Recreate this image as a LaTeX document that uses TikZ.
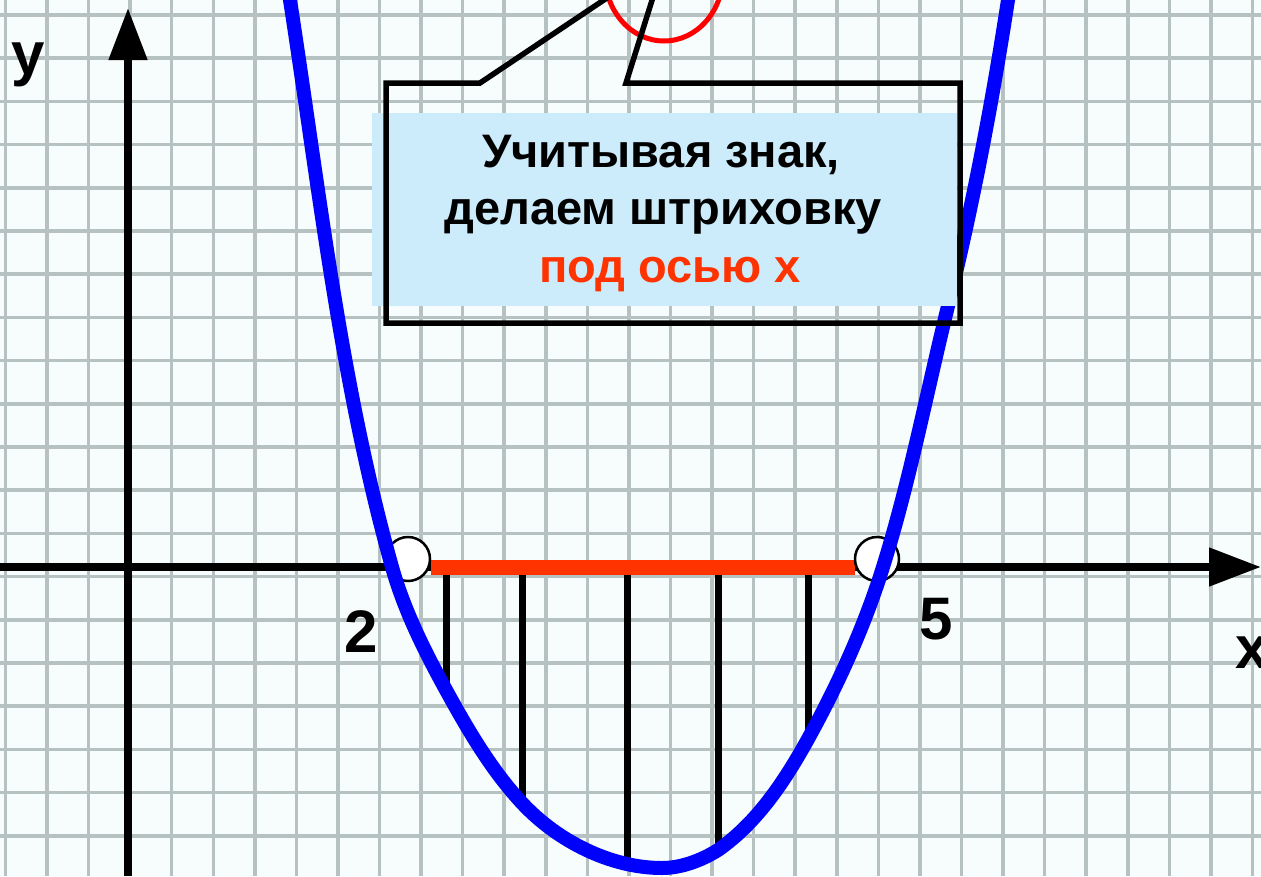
\documentclass[tikz,border=0pt]{standalone}
\usepackage{fontspec}
\setmainfont{Liberation Sans}
\usetikzlibrary{arrows.meta}
\definecolor{gridc}{RGB}{182,194,194}
\definecolor{bgc}{RGB}{247,252,252}
\definecolor{boxfill}{RGB}{204,235,251}
\definecolor{hred}{RGB}{255,51,0}
\definecolor{curveblue}{RGB}{0,0,255}
\begin{document}
\begin{tikzpicture}[x=1pt,y=-1pt,
  gridline/.style={draw=gridc, line width=3.5pt},
  axis/.style={line width=8pt, -{Triangle[length=52pt,width=37pt]}},
  lbl/.style={font=\fontsize{60}{72}\selectfont\bfseries, inner sep=0pt},
  boxtext/.style={font=\fontsize{47}{56}\selectfont\bfseries, inner sep=0pt},
  redseg/.style={draw=hred, line width=15pt},
  hatchline/.style={draw=black, line width=7pt},
  opendot/.style={circle, draw=black, fill=white, line width=2.5pt, minimum size=44pt, inner sep=0pt},
  curve/.style={draw=curveblue, line width=14pt, line join=round},
  callout/.style={draw=black, line width=5.5pt, line join=miter},
  oval/.style={draw=red, line width=5pt}]
\useasboundingbox (0,0) rectangle (1261,876);
\clip (0,0) rectangle (1261,876);
\fill[bgc] (0,0) rectangle (1261,876);
% grid
\foreach \k in {0,...,30} \draw[gridline] ({5.4+41.57*\k},0) -- ({5.4+41.57*\k},876);
\foreach \k in {0,...,20} \draw[gridline] (0,{15+43.2*\k}) -- (1261,{15+43.2*\k});
% axes
\coordinate (yb) at (128,876);
\coordinate (yt) at (128,8);
\coordinate (xl) at (0,567);
\coordinate (xr) at (1261,567);
\draw[axis] (yb) -- (yt);
\draw[axis] (xl) -- (xr);
% labels
\node[lbl, anchor=base] (ylab) at (28,74) {y};
\node[lbl, anchor=base] (two) at (361,652) {2};
\node[lbl, anchor=base] (five) at (936,639) {5};
\node[lbl, anchor=base] (xlab) at (1252,668) {x};
% red interval and hatching
\coordinate (ra) at (431,567);
\coordinate (rb) at (855,567);
\draw[redseg] (ra) -- (rb);
\foreach \x/\y in {446/686,522/800,627/863,718/849,808/737}
  \draw[hatchline] (\x,575) -- (\x,\y);
% open endpoints
\node[opendot] (r1) at (408,559) {};
\node[opendot] (r2) at (877,559) {};
% curve
\draw[curve] (286.9,-20) -- (290,0)
  .. controls (319.4,189.7) and (340.2,382.1) .. (392,567)
  .. controls (404.1,610.1) and (424.4,650.8) .. (446,690)
  .. controls (467.9,729.8) and (491.1,769.8) .. (522,803)
  .. controls (557.2,840.8) and (610.3,868) .. (662,868)
  .. controls (681.5,868) and (702,860.1) .. (718,850)
  .. controls (757.3,822.6) and (784.8,780.9) .. (808,739)
  .. controls (838.2,684.3) and (864.4,626.6) .. (883,567)
  .. controls (909.7,481.4) and (926.6,393.1) .. (948,306)
  .. controls (972.8,205.1) and (992.2,102.7) .. (1008,0)
  -- (1011.1,-20);
% box fill
\fill[boxfill] (372,113) rectangle (957,306);
% red oval
\draw[oval] (664,-25) ellipse [x radius=59pt, y radius=66pt];
% callout outline
\draw[callout] (386,323) -- (386,83) -- (480,83) -- (665,-41) -- (626,83) -- (960,83) -- (960,323) -- cycle;
% text
\node[boxtext, anchor=base] (t1) at (661,167) {Учитывая знак,};
\node[boxtext, anchor=base] (t2) at (663,224) {делаем штриховку};
\node[boxtext, anchor=base, text=hred] (t3) at (670,282) {под осью x};
\end{tikzpicture}
\end{document}
